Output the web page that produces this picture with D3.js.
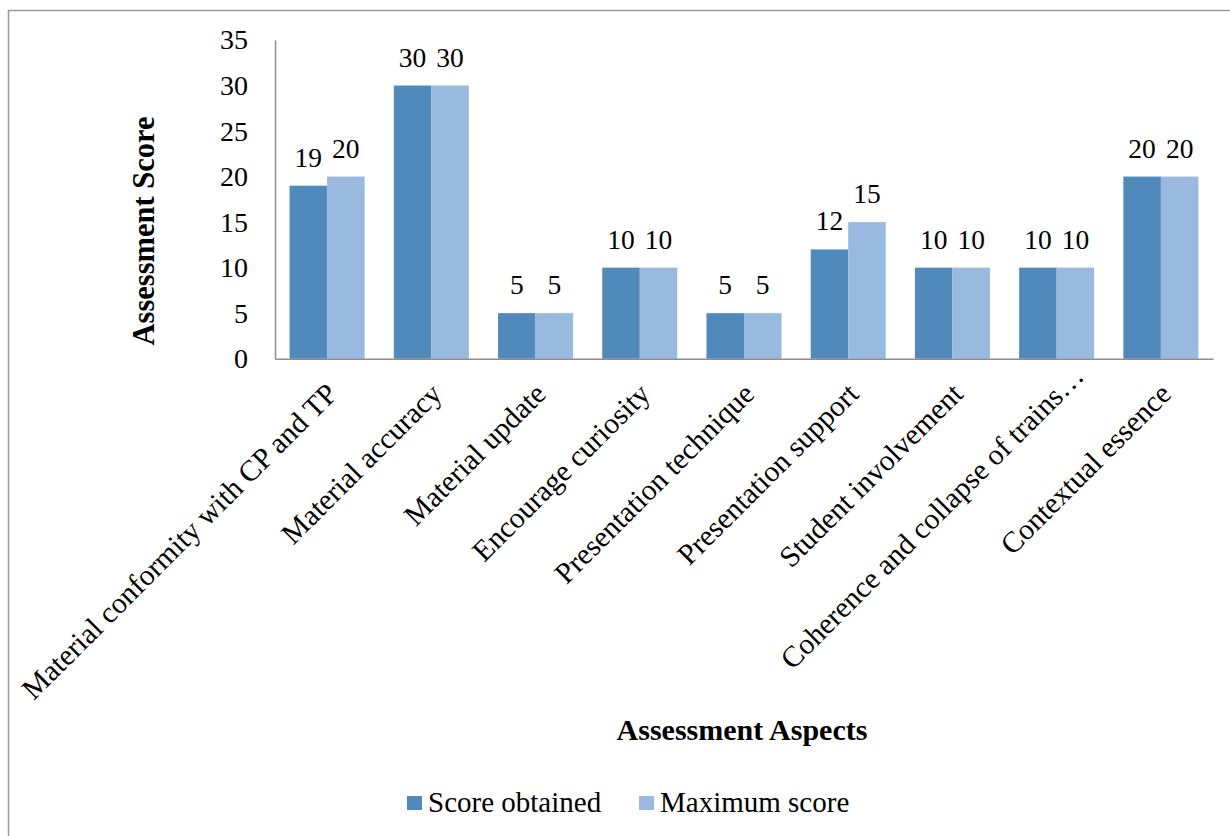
<!DOCTYPE html>
<html>
<head>
<meta charset="utf-8">
<script src="https://cdn.jsdelivr.net/npm/d3@7"></script>
<style>
  body { margin: 0; background: #fff; }
  svg text { font-family: "Liberation Serif", "Times New Roman", serif; }
</style>
</head>
<body>
<script>
const categories = [
  "Material conformity with CP and TP",
  "Material accuracy",
  "Material update",
  "Encourage curiosity",
  "Presentation technique",
  "Presentation support",
  "Student involvement",
  "Coherence and collapse of trains…",
  "Contextual essence"
];
const seriesNames = ["Score obtained", "Maximum score"];
const scoreObtained = [19, 30, 5, 10, 5, 12, 10, 10, 20];
const maximumScore = [20, 30, 5, 10, 5, 15, 10, 10, 20];
const yTicks = [0, 5, 10, 15, 20, 25, 30, 35];
const colors = ["#5089bc", "#99b9df"];

const serif = "Liberation Serif";
const chartWidth = 1230, chartHeight = 836;
const plotLeft = 275, plotRight = 1213, plotTop = 40, plotBottom = 358.7;

const svg = d3.select("body").append("svg")
  .attr("width", chartWidth)
  .attr("height", chartHeight);

// outer chart border
svg.append("rect")
  .attr("x", 8.5).attr("y", 10.5)
  .attr("width", 1300).attr("height", 900)
  .attr("fill", "none")
  .attr("stroke", "#9a9a9a")
  .attr("stroke-width", 1.5);

const x = d3.scaleBand()
  .domain(categories)
  .range([plotLeft, plotRight])
  .paddingInner(0.28)
  .paddingOuter(0.14);

const xs = d3.scaleBand()
  .domain(seriesNames)
  .range([0, x.bandwidth()]);

const y = d3.scaleLinear()
  .domain([0, 35])
  .range([plotBottom, plotTop]);

const rows = categories.map((c, i) => ({
  cat: c,
  vals: [
    { name: seriesNames[0], v: scoreObtained[i] },
    { name: seriesNames[1], v: maximumScore[i] }
  ]
}));

const groups = svg.selectAll("g.grp")
  .data(rows)
  .enter()
  .append("g")
  .attr("class", "grp")
  .attr("transform", d => "translate(" + x(d.cat) + ",0)");

groups.selectAll("rect")
  .data(d => d.vals)
  .enter()
  .append("rect")
  .attr("x", d => xs(d.name))
  .attr("y", d => y(d.v))
  .attr("width", xs.bandwidth())
  .attr("height", d => y(0) - y(d.v))
  .attr("fill", (d, i) => colors[i]);

groups.selectAll("text.val")
  .data(d => d.vals)
  .enter()
  .append("text")
  .attr("class", "val")
  .attr("x", d => xs(d.name) + xs.bandwidth() / 2)
  .attr("y", d => y(d.v) - 19)
  .attr("text-anchor", "middle")
  .attr("font-family", serif)
  .attr("font-size", 27.5)
  .attr("fill", "#000")
  .text(d => d.v);

// y axis
const yAxis = d3.axisLeft(y)
  .tickValues(yTicks)
  .tickSize(0)
  .tickPadding(27);
const gy = svg.append("g")
  .attr("transform", "translate(" + plotLeft + ",0)")
  .call(yAxis)
  .attr("font-family", serif)
  .attr("font-size", 28);
gy.select(".domain").attr("stroke", "#8c8c8c").attr("stroke-width", 1.5);
gy.selectAll("text").attr("fill", "#000");

// x axis
const xAxis = d3.axisBottom(x)
  .tickSize(0)
  .tickSizeOuter(0);
const gx = svg.append("g")
  .attr("transform", "translate(0," + plotBottom + ")")
  .call(xAxis)
  .attr("font-family", serif)
  .attr("font-size", 29.5);
gx.select(".domain").attr("stroke", "#8c8c8c").attr("stroke-width", 1.5);
gx.selectAll("text")
  .attr("y", 0)
  .attr("dy", 0)
  .attr("text-anchor", "end")
  // truncated labels sit a bit further along the slant, as in the original
  .attr("transform", d => d.endsWith("…")
    ? "translate(29,19) rotate(-45)"
    : "translate(12,37) rotate(-45)")
  .attr("fill", "#000");

// axis titles
svg.append("text")
  .attr("transform", "translate(144,231) rotate(-90)")
  .attr("text-anchor", "middle")
  .attr("dominant-baseline", "central")
  .attr("font-family", serif)
  .attr("font-size", 30.5)
  .attr("font-weight", "bold")
  .attr("fill", "#000")
  .text("Assessment Score");

svg.append("text")
  .attr("x", 742)
  .attr("y", 740)
  .attr("text-anchor", "middle")
  .attr("font-family", serif)
  .attr("font-size", 30)
  .attr("font-weight", "bold")
  .attr("fill", "#000")
  .text("Assessment Aspects");

// legend
const legend = svg.append("g")
  .attr("font-family", serif)
  .attr("font-size", 29);
const legendX = [407, 639];
seriesNames.forEach((s, i) => {
  legend.append("rect")
    .attr("x", legendX[i])
    .attr("y", 796)
    .attr("width", 15)
    .attr("height", 14)
    .attr("fill", colors[i]);
  legend.append("text")
    .attr("x", legendX[i] + 21)
    .attr("y", 812)
    .attr("fill", "#000")
    .text(s);
});
</script>
</body>
</html>
